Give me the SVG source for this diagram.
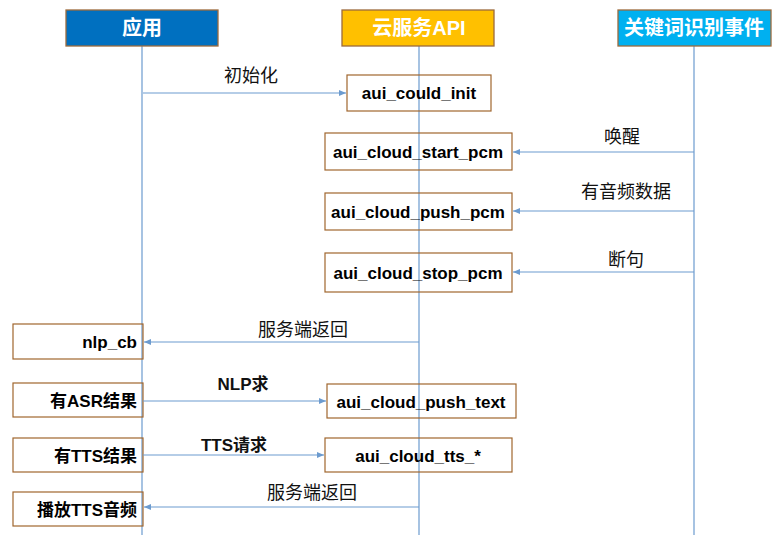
<svg xmlns="http://www.w3.org/2000/svg" width="782" height="535" viewBox="0 0 782 535">
<style>
.hd{stroke:#9C6A3C;stroke-width:1.3}
.ht{font-family:"Liberation Sans","Noto Sans CJK SC",sans-serif;font-weight:bold;font-size:20px;fill:#fff;text-anchor:middle}
.bx{fill:none;stroke:#A0662E;stroke-width:1.2}
.nt{font-family:"Liberation Sans","Noto Sans CJK SC",sans-serif;font-weight:bold;font-size:17px;fill:#000}
.lbl{font-family:"Noto Sans CJK SC",sans-serif;font-size:18px;fill:#111;text-anchor:middle}
.lblb{font-family:"Liberation Sans","Noto Sans CJK SC",sans-serif;font-weight:bold;font-size:17px;fill:#111;text-anchor:middle}
.ll{stroke:#6C9BCF;stroke-width:1.2;fill:none}
.ar{stroke:#6C9BCF;stroke-width:1.2;fill:none;marker-end:url(#ah)}
</style>
<defs>
<marker id="ah" markerWidth="8" markerHeight="8" refX="7" refY="4" orient="auto" markerUnits="userSpaceOnUse">
<path d="M0,1 L7,4 L0,7 Z" fill="#6C9BCF"/>
</marker>
</defs>
<rect width="782" height="535" fill="#fff"/>
<g id="lifelines">
<line class="ll" x1="142" y1="46" x2="142" y2="535"/>
<line class="ll" x1="419" y1="46" x2="419" y2="535"/>
<line class="ll" x1="694" y1="46" x2="694" y2="535"/>
</g>
<g id="app"><rect class="hd" x="66" y="10" width="152" height="36" fill="#0070C0"/><text class="ht" x="142" y="35">应用</text></g>
<g id="cloud"><rect class="hd" x="342" y="10" width="152" height="36" fill="#FFC000"/><text class="ht" x="419" y="35">云服务API</text></g>
<g id="kws"><rect class="hd" x="618" y="10" width="153" height="36" fill="#00B0F0"/><text class="ht" x="694" y="35">关键词识别事件</text></g>
<g id="init"><rect class="bx" x="347" y="75" width="144" height="36"/><text class="nt" x="419" y="99" text-anchor="middle">aui_could_init</text></g>
<g id="start"><rect class="bx" x="325" y="133" width="187" height="37"/><text class="nt" x="418" y="158" text-anchor="middle">aui_cloud_start_pcm</text></g>
<g id="push"><rect class="bx" x="325" y="193" width="187" height="37"/><text class="nt" x="418" y="218" text-anchor="middle">aui_cloud_push_pcm</text></g>
<g id="stop"><rect class="bx" x="325" y="253" width="187" height="39"/><text class="nt" x="418" y="279" text-anchor="middle">aui_cloud_stop_pcm</text></g>
<g id="nlpcb"><rect class="bx" x="13" y="324" width="130" height="35"/><text class="nt" x="137" y="348" text-anchor="end">nlp_cb</text></g>
<g id="asr"><rect class="bx" x="13" y="383" width="130" height="34"/><text class="nt" x="137" y="407" text-anchor="end">有ASR结果</text></g>
<g id="pushtext"><rect class="bx" x="327" y="384" width="189" height="34"/><text class="nt" x="421" y="408" text-anchor="middle">aui_cloud_push_text</text></g>
<g id="tts"><rect class="bx" x="13" y="438" width="130" height="34"/><text class="nt" x="137" y="462" text-anchor="end">有TTS结果</text></g>
<g id="ttsapi"><rect class="bx" x="325" y="438" width="187" height="34"/><text class="nt" x="418" y="462" text-anchor="middle">aui_cloud_tts_*</text></g>
<g id="play"><rect class="bx" x="13" y="492" width="130" height="34"/><text class="nt" x="137" y="516" text-anchor="end">播放TTS音频</text></g>
<g id="connectors">
<line class="ar" x1="143" y1="93" x2="346" y2="93"/>
<text class="lbl" x="251" y="82">初始化</text>
<line class="ar" x1="694" y1="152" x2="513" y2="152"/>
<text class="lbl" x="622" y="143">唤醒</text>
<line class="ar" x1="694" y1="211" x2="513" y2="211"/>
<text class="lbl" x="626" y="198">有音频数据</text>
<line class="ar" x1="694" y1="272" x2="513" y2="272"/>
<text class="lbl" x="626" y="266">断句</text>
<line class="ar" x1="419" y1="342" x2="144" y2="342"/>
<text class="lbl" x="303" y="336">服务端返回</text>
<line class="ar" x1="143" y1="401" x2="326" y2="401"/>
<text class="lblb" x="243" y="390">NLP求</text>
<line class="ar" x1="143" y1="455" x2="324" y2="455"/>
<text class="lblb" x="234" y="451">TTS请求</text>
<line class="ar" x1="419" y1="507" x2="144" y2="507"/>
<text class="lbl" x="312" y="499">服务端返回</text>
</g>
</svg>
